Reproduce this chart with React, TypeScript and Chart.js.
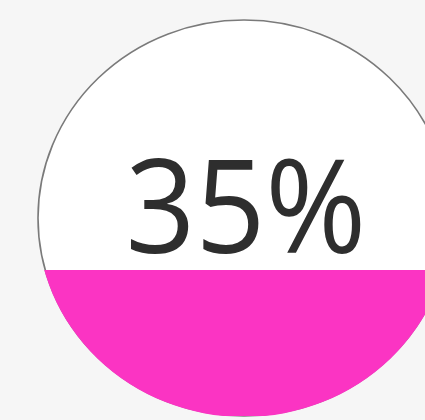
import React, { useEffect, useRef } from "react";
import { Chart, registerables } from "chart.js";

Chart.register(...registerables);

const categories = ["level"];
const fillValues = [35];
const valueLabels = ["35%"];

function geom(chart: any) {
  const a = chart.chartArea;
  const ry = 198;
  const rx = 206;
  return { cx: a.left + rx, cy: a.bottom - ry, rx, ry };
}

const gaugePlugin = {
  id: "gauge",
  beforeDraw(chart: any) {
    const { ctx, width, height } = chart;
    ctx.save();
    ctx.fillStyle = "#f6f6f6";
    ctx.fillRect(0, 0, width, height);
    const g = geom(chart);
    ctx.beginPath();
    ctx.ellipse(g.cx, g.cy, g.rx, g.ry, 0, 0, Math.PI * 2);
    ctx.fillStyle = "#ffffff";
    ctx.fill();
    ctx.lineWidth = 1.6;
    ctx.strokeStyle = "#7a7a7a";
    ctx.stroke();
    ctx.restore();
  },
  beforeDatasetsDraw(chart: any) {
    const { ctx } = chart;
    const g = geom(chart);
    ctx.save();
    ctx.beginPath();
    ctx.ellipse(g.cx, g.cy, g.rx + 1, g.ry + 1, 0, 0, Math.PI * 2);
    ctx.clip();
  },
  afterDatasetsDraw(chart: any) {
    const { ctx } = chart;
    ctx.restore();
    const g = geom(chart);
    ctx.save();
    ctx.translate(g.cx + 2, g.cy + 35);
    ctx.scale(0.94, 1);
    ctx.font = '130px "Open Sans"';
    ctx.fillStyle = "#2e2e2e";
    ctx.textAlign = "center";
    ctx.textBaseline = "alphabetic";
    ctx.fillText(valueLabels[0], 0, 0);
    ctx.restore();
  },
};

export default function App() {
  const ref = useRef<HTMLCanvasElement>(null);
  useEffect(() => {
    if (!ref.current) return;
    const chart = new Chart(ref.current, {
      type: "bar",
      data: {
        labels: categories,
        datasets: [
          {
            data: fillValues,
            backgroundColor: "#fb34c3",
            borderWidth: 0,
            barPercentage: 1,
            categoryPercentage: 1,
          },
        ],
      },
      options: {
        animation: false,
        responsive: false,
        maintainAspectRatio: false,
        layout: { padding: { left: 38, right: 0, top: 0, bottom: 4 } },
        plugins: { legend: { display: false }, tooltip: { enabled: false } },
        scales: {
          x: { display: false, offset: true },
          y: { display: false, min: 0, max: 100 },
        },
      },
      plugins: [gaugePlugin],
    });
    return () => chart.destroy();
  }, []);
  return (
    <div style={{ position: "fixed", left: 0, top: 0, width: 425, height: 420 }}>
      <canvas ref={ref} width={425} height={420} style={{ width: 425, height: 420, display: "block" }} />
    </div>
  );
}
